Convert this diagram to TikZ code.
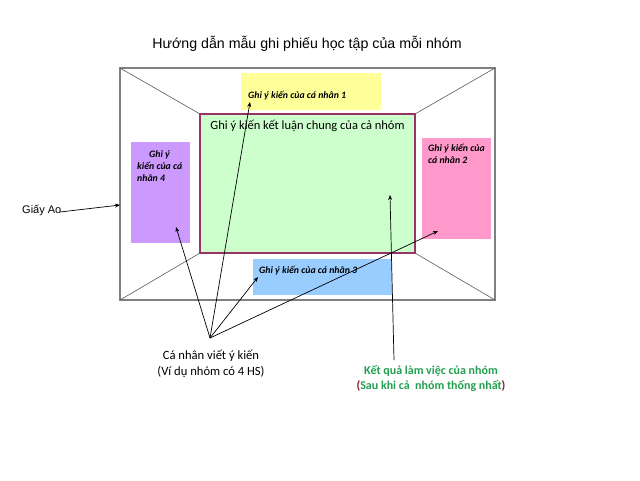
\documentclass[tikz,border=0pt]{standalone}
\usepackage{fontspec}
\setmainfont{Carlito}
\newfontfamily\arialf{Liberation Sans}
\usetikzlibrary{arrows.meta}
\definecolor{yelbox}{HTML}{FFFF99}
\definecolor{purbox}{HTML}{CC99FF}
\definecolor{pinkbox}{HTML}{FF99CC}
\definecolor{bluebox}{HTML}{99CCFF}
\definecolor{grnbox}{HTML}{CCFFCC}
\definecolor{innerline}{HTML}{993366}
\definecolor{outerline}{HTML}{808080}
\definecolor{grntext}{HTML}{22A050}
\definecolor{parcol}{HTML}{8B1A3A}
\begin{document}
\begin{tikzpicture}[x=1pt,y=-1pt,
  colbox/.style={draw=none,anchor=north west,inner sep=0pt},
  smalltxt/.style={anchor=base west,inner sep=0pt,font=\fontsize{9.8}{11.8}\selectfont\bfseries\itshape},
  arr/.style={-{Stealth[length=5pt,width=4pt]},line width=0.7pt,black},
  diag/.style={draw=outerline!70!black,line width=0.6pt}]
\useasboundingbox (0,0) rectangle (640,480);
\fill[white] (0,0) rectangle (640,480);
% title
\node[anchor=base,inner sep=0pt,font=\arialf\fontsize{14.2}{17}\selectfont] (title) at (307,48) {Hướng dẫn mẫu ghi phiếu học tập của mỗi nhóm};
% outer sheet
\coordinate (o1) at (120,68);
\coordinate (o2) at (495,68);
\coordinate (o3) at (495,300);
\coordinate (o4) at (120,300);
\draw[outerline,line width=1.2pt] (o1) rectangle (o3);
% inner corners
\coordinate (i1) at (200,114);
\coordinate (i2) at (415,114);
\coordinate (i3) at (415,253);
\coordinate (i4) at (200,253);
\draw[diag] (o1) -- (i1) (o2) -- (i2) (o3) -- (i3) (o4) -- (i4);
% coloured boxes
\node[colbox,fill=yelbox,minimum width=140pt,minimum height=37pt] (b1) at (241,73) {};
\node[colbox,fill=purbox,minimum width=59pt,minimum height=101pt] (b4) at (131,142) {};
\node[colbox,fill=pinkbox,minimum width=69pt,minimum height=101pt] (b2) at (422,138) {};
\node[colbox,fill=bluebox,minimum width=139pt,minimum height=36pt] (b3) at (253,259) {};
\draw[innerline,line width=1.6pt,fill=grnbox] (i1) rectangle (i3);
\node[inner sep=0pt] (inner) at (307.5,183.5) {};
% texts (multi-line nodes: base = last line)
\node[smalltxt] (t1) at (248,98) {Ghi ý kiến của cá nhân 1};
\node[smalltxt,align=left] (t4) at (137,181) {\hspace{12pt}Ghi ý\\kiến của cá\\nhân 4};
\node[smalltxt,align=left] (t2) at (428,163) {Ghi ý kiến của\\cá nhân 2};
\node[smalltxt] (t3) at (259,273) {Ghi ý kiến của cá nhân 3};
\node[anchor=base,inner sep=0pt,font=\fontsize{12.5}{15}\selectfont] (tg) at (307.5,129) {Ghi ý kiến kết luận chung của cả nhóm};
\node[anchor=base west,inner sep=0pt,font=\arialf\fontsize{11}{13}\selectfont] (giay) at (22,213) {Giấy Ao};
\node[anchor=base,inner sep=0pt,font=\fontsize{12.6}{16}\selectfont,align=center] (canhan) at (211,375) {Cá nhân viết ý kiến\\(Ví dụ nhóm có 4 HS)};
\node[anchor=base,inner sep=0pt,font=\fontsize{12}{15}\selectfont\bfseries,align=center,text=grntext] (ketqua) at (431,389) {Kết quả làm việc của nhóm\\{\color{parcol}(}Sau khi cả\ \ nhóm thống nhất{\color{parcol})}};
% arrow end points
\coordinate (src) at (210,338);
\coordinate (p1) at (250,102);
\coordinate (p4) at (176,227);
\coordinate (p3) at (258,277);
\coordinate (p2) at (438,231);
\coordinate (kq) at (394,360);
\coordinate (pg) at (390,195);
\coordinate (gs) at (60,212);
\coordinate (ge) at (120,205);
\draw[arr] (src) -- (p1);
\draw[arr] (src) -- (p4);
\draw[arr] (src) -- (p3);
\draw[arr] (src) -- (p2);
\draw[arr] (kq) -- (pg);
\draw[arr] (gs) -- (ge);
\end{tikzpicture}
\end{document}
